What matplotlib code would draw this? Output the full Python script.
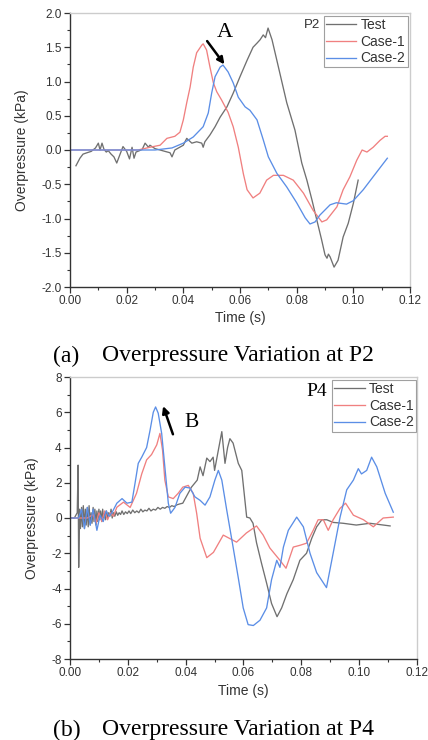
import matplotlib
matplotlib.use('Agg')
import matplotlib.pyplot as plt
from matplotlib.ticker import MultipleLocator

# ---- P2 data (time in s, overpressure in kPa) ----
p2_test_t = [0.0021, 0.0035, 0.0046, 0.006, 0.0075, 0.009, 0.0100, 0.0106, 0.0113, 0.012, 0.0128,
             0.0135, 0.0145, 0.0155, 0.0165, 0.0175, 0.0187, 0.0200, 0.0210, 0.0219, 0.0226, 0.0233,
             0.0245, 0.0255, 0.0265, 0.0277, 0.0282, 0.030, 0.0318, 0.0335, 0.0353, 0.036, 0.037,
             0.040, 0.0412, 0.043, 0.0447, 0.0465, 0.047, 0.0476, 0.0494, 0.0512, 0.053, 0.0554,
             0.0576, 0.060, 0.0625, 0.0646, 0.066, 0.0671, 0.0682, 0.069, 0.0699, 0.0713, 0.073,
             0.0752, 0.0765, 0.0794, 0.0818, 0.0836, 0.0854, 0.0871, 0.0888, 0.0900, 0.0907,
             0.0912, 0.0918, 0.0932, 0.0946, 0.0964, 0.0982, 0.1000, 0.1017]
p2_test_p = [-0.23, -0.12, -0.06, -0.04, -0.02, 0.03, 0.10, 0.0, 0.10, 0.01, -0.03,
             -0.01, -0.06, -0.10, -0.19, -0.08, 0.05, -0.02, -0.13, 0.04, -0.12, -0.03,
             -0.01, 0.01, 0.10, 0.04, 0.07, 0.02, 0.0, -0.02, -0.04, -0.10, 0.0,
             0.07, 0.17, 0.10, 0.12, 0.10, 0.04, 0.12, 0.22, 0.34, 0.48, 0.63,
             0.83, 1.07, 1.31, 1.50, 1.56, 1.61, 1.68, 1.64, 1.78, 1.61, 1.31,
             0.92, 0.69, 0.29, -0.19, -0.44, -0.73, -1.02, -1.31, -1.53, -1.58,
             -1.52, -1.56, -1.71, -1.61, -1.27, -1.07, -0.78, -0.44]

p2_case1_t = [0.0, 0.024, 0.0282, 0.0318, 0.0342, 0.037, 0.0388, 0.040, 0.0412, 0.0424, 0.0435,
              0.0447, 0.0465, 0.047, 0.0482, 0.0494, 0.0506, 0.0518, 0.0535, 0.0558, 0.0576,
              0.0594, 0.0612, 0.0625, 0.0646, 0.067, 0.0694, 0.0718, 0.0753, 0.0788, 0.0824,
              0.0858, 0.0889, 0.0906, 0.0942, 0.0964, 0.0988, 0.1012, 0.1031, 0.1048, 0.107,
              0.1094, 0.1112, 0.112]
p2_case1_p = [0.0, 0.0, 0.04, 0.07, 0.17, 0.20, 0.26, 0.44, 0.69, 0.92, 1.21,
              1.42, 1.53, 1.55, 1.46, 1.21, 0.98, 0.85, 0.73, 0.55, 0.34,
              0.04, -0.35, -0.58, -0.70, -0.63, -0.44, -0.37, -0.37, -0.44, -0.63,
              -0.88, -1.05, -1.02, -0.83, -0.58, -0.39, -0.15, 0.0, -0.03, 0.04,
              0.14, 0.20, 0.20]

p2_case2_t = [0.0, 0.030, 0.036, 0.040, 0.0435, 0.047, 0.0488, 0.050, 0.0512, 0.053, 0.054,
              0.0558, 0.0576, 0.0594, 0.0618, 0.0635, 0.066, 0.0682, 0.070, 0.073, 0.0765,
              0.0800, 0.083, 0.0847, 0.0865, 0.0882, 0.0918, 0.094, 0.0976, 0.100, 0.1035,
              0.107, 0.112]
p2_case2_p = [0.0, 0.0, 0.03, 0.10, 0.19, 0.34, 0.54, 0.83, 1.07, 1.21, 1.24,
              1.14, 0.98, 0.77, 0.63, 0.58, 0.44, 0.15, -0.10, -0.34, -0.54,
              -0.77, -0.99, -1.08, -1.05, -0.95, -0.80, -0.77, -0.79, -0.74, -0.58,
              -0.39, -0.12]

# ---- P4 data ----
p4_test_t = [0.000, 0.0015, 0.0025, 0.0028, 0.0030, 0.0033, 0.0036, 0.0040, 0.0043, 0.0046, 0.0050,
             0.0053, 0.0056, 0.0060, 0.0063, 0.0066, 0.0070, 0.0073, 0.0076, 0.0080, 0.0083, 0.0086,
             0.0090, 0.0093, 0.0096, 0.0100, 0.0103, 0.0106, 0.0110, 0.0113, 0.0116, 0.0120, 0.0123,
             0.0126, 0.0130, 0.0134, 0.0138, 0.0142, 0.0146, 0.0150, 0.0155, 0.0160, 0.0165, 0.0170,
             0.0175, 0.0180, 0.0186, 0.0192, 0.0198, 0.0204, 0.0210, 0.0217, 0.0224, 0.0231, 0.0238,
             0.0245, 0.0252, 0.0259, 0.0266, 0.0273, 0.0280, 0.0288, 0.0296, 0.0304, 0.0312, 0.0320,
             0.0328, 0.0336, 0.0344, 0.0352, 0.0360, 0.0370, 0.0380, 0.039, 0.042, 0.044, 0.045,
             0.046, 0.0473, 0.0484, 0.0495, 0.050, 0.0513, 0.0525, 0.0536, 0.0545, 0.0553, 0.0564,
             0.0582, 0.0594, 0.0611, 0.0622, 0.0633, 0.0645, 0.0662, 0.068, 0.0697, 0.0716, 0.0732,
             0.075, 0.0772, 0.0795, 0.0818, 0.0836, 0.0853, 0.0871, 0.0888, 0.091, 0.0945, 0.099,
             0.1037, 0.1107]
p4_test_p = [0.0, 0.0, 0.3, 3.0, -2.8, 0.5, -0.6, 0.6, -0.5, 0.7, -0.6,
             0.5, -0.4, 0.6, -0.5, 0.7, -0.4, 0.3, -0.3, 0.6, -0.2, 0.5,
             -0.4, 0.4, -0.2, 0.5, -0.1, 0.4, -0.2, 0.5, 0.0, 0.3, -0.1,
             0.4, 0.0, 0.3, 0.1, 0.5, 0.0, 0.3, 0.1, 0.35, 0.15, 0.3,
             0.2, 0.4, 0.2, 0.35, 0.25, 0.4, 0.25, 0.45, 0.3, 0.4, 0.3,
             0.5, 0.35, 0.45, 0.4, 0.55, 0.4, 0.5, 0.45, 0.6, 0.5, 0.6,
             0.55, 0.65, 0.6, 0.7, 0.65, 0.75, 0.8, 0.84, 1.75, 2.15, 2.9,
             2.4, 3.4, 3.2, 3.45, 2.7, 3.85, 4.9, 3.1, 4.0, 4.5, 4.25,
             3.1, 2.7, 0.05, 0.0, -0.3, -1.4, -2.55, -3.7, -4.85, -5.6, -5.1,
             -4.3, -3.5, -2.4, -2.0, -1.15, -0.5, -0.1, -0.1, -0.25, -0.3, -0.4,
             -0.3, -0.45]

p4_case1_t = [0.0, 0.006, 0.008, 0.009, 0.010, 0.011, 0.012, 0.013, 0.014, 0.0150, 0.0162,
              0.0185, 0.0208, 0.023, 0.0248, 0.0265, 0.0282, 0.030, 0.0311, 0.032, 0.0328,
              0.034, 0.0357, 0.0374, 0.039, 0.0409, 0.0426, 0.0438, 0.045, 0.0473, 0.0496,
              0.053, 0.0576, 0.061, 0.0645, 0.0668, 0.0691, 0.0726, 0.0747, 0.0772, 0.0795,
              0.0818, 0.0841, 0.0858, 0.0876, 0.0893, 0.091, 0.0934, 0.0953, 0.098, 0.1015,
              0.1049, 0.1083, 0.1118]
p4_case1_p = [0.0, 0.0, 0.2, -0.3, 0.3, -0.2, 0.4, -0.1, 0.3, 0.1, 0.61,
              0.9, 0.6, 1.4, 2.5, 3.3, 3.6, 4.15, 4.8, 3.85, 2.15,
              1.2, 1.1, 1.4, 1.75, 1.85, 1.4, 0.27, -1.15, -2.25, -1.95,
              -0.97, -1.37, -0.85, -0.45, -0.97, -1.7, -2.4, -2.85, -1.65, -1.55,
              -1.43, -0.7, -0.1, -0.1, -0.7, -0.1, 0.55, 0.84, 0.16, -0.1,
              -0.5, 0.0, 0.05]

p4_case2_t = [0.0, 0.003, 0.004, 0.005, 0.006, 0.007, 0.008, 0.0093, 0.0104, 0.0115, 0.0125,
              0.0135, 0.0145, 0.0162, 0.018, 0.0197, 0.0214, 0.0225, 0.0236, 0.0248, 0.0265,
              0.0277, 0.0288, 0.0296, 0.0305, 0.0317, 0.0328, 0.034, 0.0348, 0.0363, 0.038,
              0.0398, 0.0415, 0.0432, 0.045, 0.0467, 0.0484, 0.0501, 0.0513, 0.0525, 0.0542,
              0.0564, 0.0582, 0.0599, 0.0616, 0.0634, 0.0657, 0.068, 0.0697, 0.0715, 0.0726,
              0.0738, 0.0755, 0.0784, 0.0807, 0.083, 0.0853, 0.0887, 0.091, 0.0934, 0.0957,
              0.098, 0.0997, 0.1008, 0.1026, 0.1043, 0.1061, 0.109, 0.1118]
p4_case2_p = [0.0, 0.0, 0.5, -0.6, 0.6, -0.4, 0.5, -0.7, 0.16, -0.2, 0.4,
              0.1, 0.3, 0.84, 1.1, 0.84, 0.9, 1.98, 3.1, 3.45, 4.0,
              4.99, 6.0, 6.3, 5.95, 4.8, 2.9, 0.84, 0.27, 0.6, 1.4,
              1.75, 1.7, 1.2, 1.0, 0.73, 1.2, 2.15, 2.7, 2.15, 0.45,
              -1.65, -3.4, -5.1, -6.05, -6.1, -5.8, -5.1, -3.5, -2.4, -2.8,
              -1.65, -0.7, 0.05, -0.5, -2.0, -3.1, -3.95, -2.0, 0.05, 1.6,
              2.15, 2.8, 2.5, 2.7, 3.45, 2.9, 1.4, 0.33]

series_labels = ['Test', 'Case-1', 'Case-2']
series_colors = ['#707070', '#f08080', '#5b8ee6']

plt.rcParams['font.family'] = ['Liberation Sans', 'DejaVu Sans']

fig = plt.figure(figsize=(4.28, 7.40), dpi=100)
W, H = 428, 740


def make_axes(x0, y0, x1, y1):
    # pixel box -> figure fraction
    return fig.add_axes([x0 / W, 1 - y1 / H, (x1 - x0) / W, (y1 - y0) / H])


def style_axes(ax, ylim, ymajor, yminor, yfmt):
    ax.set_xlim(0, 0.12)
    ax.set_ylim(*ylim)
    ax.xaxis.set_major_locator(MultipleLocator(0.02))
    ax.xaxis.set_minor_locator(MultipleLocator(0.01))
    ax.yaxis.set_major_locator(MultipleLocator(ymajor))
    ax.yaxis.set_minor_locator(MultipleLocator(yminor))
    ax.xaxis.set_major_formatter(lambda v, pos: f'{v:.2f}')
    ax.yaxis.set_major_formatter(lambda v, pos: yfmt.format(v))
    for s in ['left', 'bottom']:
        ax.spines[s].set_color('#333333')
        ax.spines[s].set_linewidth(1.0)
    for s in ['top', 'right']:
        ax.spines[s].set_color('#cccccc')
        ax.spines[s].set_linewidth(1.0)
    ax.tick_params(which='major', direction='out', length=4, width=0.9, color='#333333',
                   labelsize=8.5, labelcolor='#333333', pad=2)
    ax.tick_params(which='minor', direction='out', length=2, width=0.8, color='#333333')
    ax.set_xlabel('Time (s)', fontsize=10, color='#333333', labelpad=3)
    ax.set_ylabel('Overpressure (kPa)', fontsize=10, color='#333333', labelpad=9)


def add_legend(ax, anchor):
    leg = ax.legend(loc='upper right', bbox_to_anchor=anchor, fontsize=10, frameon=True,
                    fancybox=False, edgecolor='#888888', borderaxespad=0, handlelength=2.2,
                    handletextpad=0.3, labelspacing=0.2, borderpad=0.15)
    leg.get_frame().set_linewidth(0.8)
    for txt in leg.get_texts():
        txt.set_color('#333333')


# ---- (a) P2 ----
ax1 = make_axes(70, 13, 410, 287)
for (t, p), lab, col in zip([(p2_test_t, p2_test_p), (p2_case1_t, p2_case1_p), (p2_case2_t, p2_case2_p)],
                            series_labels, series_colors):
    ax1.plot(t, p, color=col, lw=0.95, label=lab)
style_axes(ax1, (-2.0, 2.0), 0.5, 0.25, '{:.1f}')
add_legend(ax1, (0.993, 0.99))
ax1.text(0.735, 0.956, 'P2', transform=ax1.transAxes, ha='right', va='center',
         fontsize=9.5, color='#333333')
ax1.text(0.0547, 1.72, 'A', ha='center', va='center', fontsize=16, family='Liberation Serif')
ax1.annotate('', xy=(0.0545, 1.25), xytext=(0.0484, 1.59),
             arrowprops=dict(arrowstyle='-|>', lw=1.8, color='k', mutation_scale=10,
                             shrinkA=0, shrinkB=0))

# ---- (b) P4 ----
ax2 = make_axes(70, 377, 417, 659)
for (t, p), lab, col in zip([(p4_test_t, p4_test_p), (p4_case1_t, p4_case1_p), (p4_case2_t, p4_case2_p)],
                            series_labels, series_colors):
    ax2.plot(t, p, color=col, lw=0.95, label=lab)
style_axes(ax2, (-8, 8), 2, 1, '{:.0f}')
add_legend(ax2, (0.997, 0.99))
ax2.text(0.741, 0.95, 'P4', transform=ax2.transAxes, ha='right', va='center',
         fontsize=14, family='Liberation Serif')
ax2.text(0.0422, 5.44, 'B', ha='center', va='center', fontsize=15.5, family='Liberation Serif')
ax2.annotate('', xy=(0.0322, 6.35), xytext=(0.0356, 4.75),
             arrowprops=dict(arrowstyle='-|>', lw=1.8, color='k', mutation_scale=10,
                             shrinkA=0, shrinkB=0))

# ---- captions ----
for label, text, ypx in [('(a)', 'Overpressure Variation at P2', 356),
                         ('(b)', 'Overpressure Variation at P4', 730)]:
    fig.text(53 / W, 1 - ypx / H, label, ha='left', va='center', fontsize=17,
             family='Liberation Serif')
    fig.text(102 / W, 1 - ypx / H, text, ha='left', va='center', fontsize=17,
             family='Liberation Serif')

fig.savefig('out.png', dpi=100)
